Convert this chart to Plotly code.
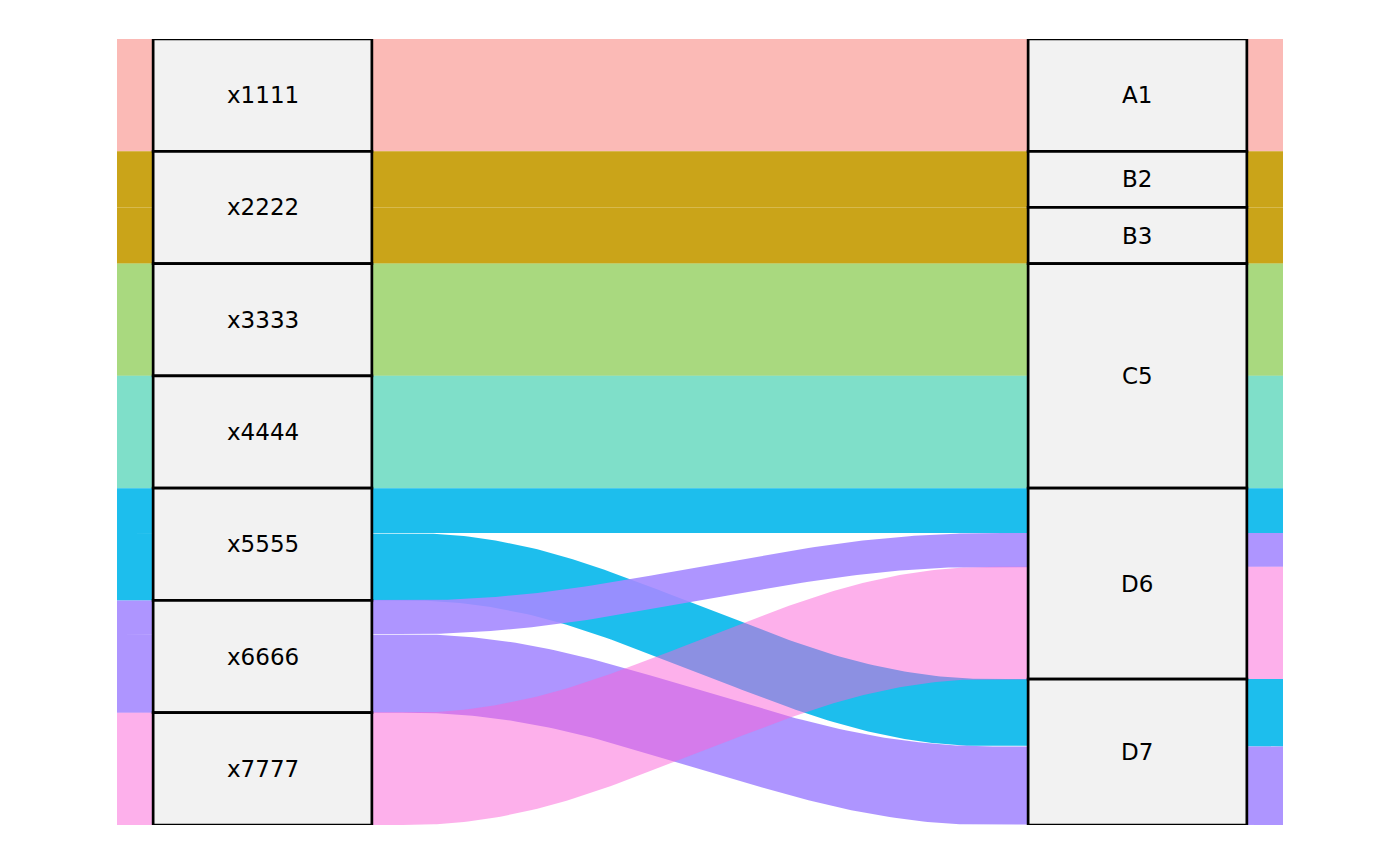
import numpy as np
import plotly.graph_objects as go

# alluvial data: one row per flow (left stratum -> right stratum, weight)
sources = ["x1111", "x2222", "x2222", "x3333", "x4444", "x5555", "x5555", "x6666", "x6666", "x7777"]
targets = ["A1", "B2", "B3", "C5", "C5", "D6", "D7", "D6", "D7", "D6"]
counts = [10, 5, 5, 10, 10, 4, 6, 3, 7, 10]

left_strata = ["x1111", "x2222", "x3333", "x4444", "x5555", "x6666", "x7777"]
right_strata = ["A1", "B2", "B3", "C5", "D6", "D7"]

# fill per alluvium (ggplot hue palette, with the opacity seen in the picture)
fill_colors = {
    "x1111": "rgba(248,118,109,0.5)",
    "x2222": "rgba(196,154,0,0.9)",
    "x3333": "rgba(83,180,0,0.5)",
    "x4444": "rgba(0,192,148,0.5)",
    "x5555": "rgba(0,182,235,0.885)",
    "x6666": "rgba(165,138,255,0.9)",
    "x7777": "rgba(251,97,215,0.5)",
}

AX_L, AX_R = 1.0, 2.0
HALF_W = 0.125
X_MIN, X_MAX = 0.8337, 2.1663
KNOT = 0.26

n = len(sources)
total = sum(counts)

# stack lodes on the left axis: strata in order, lodes within by target order
left_top = [0.0] * n
pos = 0.0
left_span = {}
for s in left_strata:
    start = pos
    idx = sorted([i for i in range(n) if sources[i] == s], key=lambda i: right_strata.index(targets[i]))
    for i in idx:
        left_top[i] = pos
        pos += counts[i]
    left_span[s] = (start, pos)

# stack lodes on the right axis: lodes within by source order
right_top = [0.0] * n
pos = 0.0
right_span = {}
for t in right_strata:
    start = pos
    idx = sorted([i for i in range(n) if targets[i] == t], key=lambda i: left_strata.index(sources[i]))
    for i in idx:
        right_top[i] = pos
        pos += counts[i]
    right_span[t] = (start, pos)


def spline(x0, x1, y0, y1, steps=40):
    # clamped cubic B-spline through (0,0),(k,0),(1-k,1),(1,1)
    cx = [0, 0, 0, KNOT, 1 - KNOT, 1, 1, 1]
    cy = [0, 0, 0, 0, 1, 1, 1, 1]
    xs, ys = [], []
    segs = len(cx) - 3
    for s in range(segs):
        for t in np.linspace(0, 1, steps, endpoint=(s == segs - 1)):
            b = [(1 - t) ** 3 / 6, (3 * t ** 3 - 6 * t ** 2 + 4) / 6,
                 (-3 * t ** 3 + 3 * t ** 2 + 3 * t + 1) / 6, t ** 3 / 6]
            u = sum(b[j] * cx[s + j] for j in range(4))
            v = sum(b[j] * cy[s + j] for j in range(4))
            xs.append(x0 + (x1 - x0) * u)
            ys.append(y0 + (y1 - y0) * v)
    return xs, ys


fig = go.Figure()

xa, xb = AX_L + HALF_W, AX_R - HALF_W
for i in range(n):
    yl0, yl1 = left_top[i], left_top[i] + counts[i]
    yr0, yr1 = right_top[i], right_top[i] + counts[i]
    tx, ty = spline(xa, xb, yl0, yr0)
    bx, by = spline(xa, xb, yl1, yr1)
    px = [X_MIN] + tx + [X_MAX, X_MAX] + bx[::-1] + [X_MIN]
    py = [yl0] + ty + [yr0, yr1] + by[::-1] + [yl1]
    fig.add_trace(go.Scatter(
        x=px, y=py, mode="lines", fill="toself",
        fillcolor=fill_colors[sources[i]], line=dict(width=0),
        hoverinfo="skip", showlegend=False,
    ))

# strata boxes and labels
for ax, spans in [(AX_L, left_span), (AX_R, right_span)]:
    for name, (a, b) in spans.items():
        fig.add_shape(type="rect", x0=ax - HALF_W, x1=ax + HALF_W, y0=a, y1=b,
                      fillcolor="#F2F2F2", line=dict(color="black", width=2.7))
        fig.add_annotation(x=ax, y=(a + b) / 2, text=name, showarrow=False,
                           font=dict(family="DejaVu Sans", size=23, color="black"))

fig.update_layout(
    width=1400, height=865,
    margin=dict(l=109, r=125, t=31, b=48),
    plot_bgcolor="white", paper_bgcolor="white",
    xaxis=dict(range=[X_MIN, X_MAX], visible=False),
    yaxis=dict(range=[total, 0], visible=False),
)

fig.write_html("out.html")
